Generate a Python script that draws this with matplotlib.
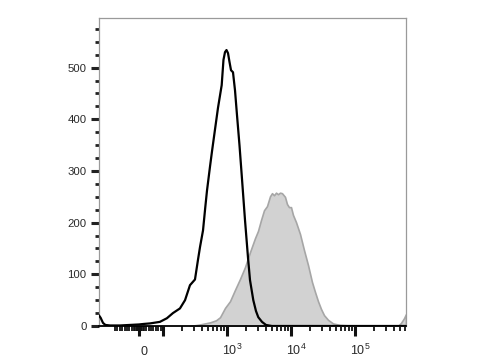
import numpy as np
import matplotlib
matplotlib.use("Agg")
import matplotlib.pyplot as plt
import matplotlib.transforms as mtransforms

plt.rcParams['font.family'] = ['Liberation Sans', 'DejaVu Sans']
plt.rcParams['mathtext.fontset'] = 'custom'
plt.rcParams['mathtext.rm'] = 'Liberation Sans'
plt.rcParams['mathtext.it'] = 'Liberation Sans'

# ---- data (fluorescence value, event count) ----
black_x = [-166, -160, -150, -140, -120, -80, -40, 0, 20, 46, 87, 115, 143, 184, 221,
           264, 316, 352, 379, 422, 458, 487, 542, 583, 649, 723, 826, 881, 931, 982,
           1037, 1094, 1155, 1241, 1334, 1433, 1567, 1698, 1911, 2130, 2287, 2576,
           2836, 3083, 3523, 4066, 5047, 626000]
black_y = [20, 16, 6, 2, 1, 1, 2, 3, 4, 5, 8, 15, 25, 34, 50,
           79, 90, 128, 153, 185, 230, 262, 308, 338, 380, 422, 466, 515, 530, 534,
           528, 511, 495, 491, 456, 408, 350, 292, 205, 132, 89, 50,
           29, 17, 8, 2, 0, 0]

gray_x = [264, 379, 542, 673, 778, 931, 1114, 1334, 1596, 1911, 2287, 2738, 3050,
          3398, 3787, 4217, 4698, 5047, 5423, 5834, 6266, 6730, 7228, 8054, 8660,
          9310, 10000, 10740, 11970, 13830, 15960, 18440, 21290, 23710, 26420,
          29440, 32800, 37860, 45290, 58300, 83500, 103700, 469900, 523300,
          582900, 626000]
gray_y = [0, 3, 7, 11, 17, 35, 48, 70, 91, 114, 143, 170, 184,
          205, 224, 232, 251, 257, 253, 258, 255, 258, 257, 250, 236,
          230, 230, 215, 201, 178, 147, 118, 85, 66, 48,
          33, 21, 12, 5, 2, 1, 0, 0, 6,
          15, 23]

y_major = [0, 100, 200, 300, 400, 500]
y_minor = [25, 50, 75, 125, 150, 175, 225, 250, 275, 325, 350, 375, 425, 450, 475,
           525, 550, 575]

x_major = [0, 100, 1000, 10000, 100000]
x_label_vals = [0, 1000, 10000, 100000]
x_label_txt = ['0', r'$\mathregular{10^{3}}$', r'$\mathregular{10^{4}}$', r'$\mathregular{10^{5}}$']
x_minor = ([-100, -90, -80, -70, -60, -50, -40, -30, -20, -15, -10, -7, -4, -2, 2, 4, 7,
            10, 15, 20, 30, 40, 50, 60, 70, 80, 90]
           + [m * 100 for m in range(2, 10)]
           + [m * 1000 for m in range(2, 10)]
           + [m * 10000 for m in range(2, 10)]
           + [m * 100000 for m in range(2, 7)])

# ---- logicle-like scale: linear near zero, log above 100 ----
S = 0.00375


def fwd(v):
    v = np.asarray(v, dtype=float)
    return np.where(v >= 100, np.log10(np.maximum(v, 100.0)), 2 + (v - 100) * S)


def inv(p):
    p = np.asarray(p, dtype=float)
    pc = np.clip(p, -10, 12)
    return np.where(pc >= 2, 10 ** np.maximum(pc, 2), 100 + (pc - 2) / S)


fig = plt.figure(figsize=(4.8, 3.6), dpi=100)
ax = fig.add_axes([99 / 480, 34 / 360, 307 / 480, 308 / 360])
ax.set_xscale('function', functions=(fwd, inv))

ax.fill_between(gray_x, 0, gray_y, facecolor='#d2d2d2', edgecolor='#a6a6a6',
                linewidth=1.2, zorder=2)
ax.plot(black_x, black_y, color='black', linewidth=1.6, zorder=3,
        solid_joinstyle='round')

ax.set_xlim(inv(1.0), inv(5.797))
ax.set_ylim(0, 596)

for s in ['top', 'right', 'left']:
    ax.spines[s].set_color('#9a9a9a')
    ax.spines[s].set_linewidth(0.9)
ax.spines['bottom'].set_color('black')
ax.spines['bottom'].set_linewidth(1.3)

ax.set_yticks(y_major)
ax.set_yticks(y_minor, minor=True)
ax.set_yticklabels([str(v) for v in y_major])
ax.tick_params(axis='y', which='major', length=6, width=2.2, color='#222222',
               labelsize=8.2, labelcolor='#2a2a2a', pad=3)
ax.tick_params(axis='y', which='minor', length=3.2, width=2.0, color='#222222')

ax.set_xticks(x_major)
ax.set_xticks(x_minor, minor=True)
ax.set_xticklabels([])
ax.tick_params(axis='x', which='major', length=7, width=2.2, color='#111111')
ax.tick_params(axis='x', which='minor', length=3.5, width=1.3, color='#111111')

trans = mtransforms.blended_transform_factory(ax.transData, ax.transAxes)
offset = mtransforms.ScaledTranslation(5 / 100, 0, fig.dpi_scale_trans)
for v, t in zip(x_label_vals, x_label_txt):
    ax.text(v, -0.094, t, transform=trans + offset, ha='center', va='baseline',
            fontsize=9, color='#2a2a2a')

fig.savefig('out.png', dpi=100)
